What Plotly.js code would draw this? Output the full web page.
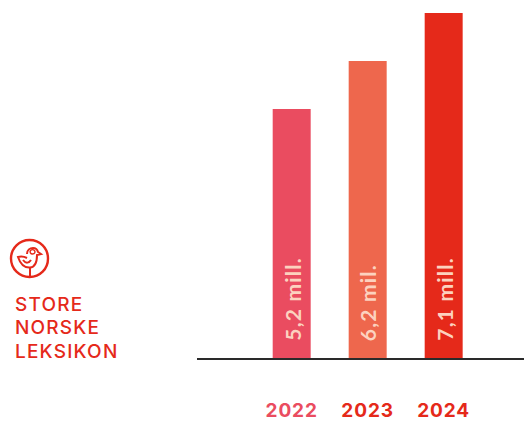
<!DOCTYPE html>
<html><head><meta charset="utf-8">
<script src="https://cdn.plot.ly/plotly-3.0.1.min.js"></script>
<style>html,body{margin:0;padding:0;background:#fff}
.xtick text{letter-spacing:0.9px}
.annotation-text{letter-spacing:1.2px}
</style></head>
<body><div id="c" style="width:524px;height:421px"></div>
<script>
const years = [2022, 2023, 2024];
const barValues = [5.2, 6.2, 7.2];
const barLabels = ['5,2 mill.', '6,2 mil.', '7,1 mill.'];
const barColors = ['#ea4c60', '#ee674d', '#e5291a'];
const tickColors = ['#ea4c60', '#e5291a', '#e5291a'];
const brandLines = ['STORE', 'NORSKE', 'LEKSIKON'];
const W = 524, H = 421, L = 197, B = 63;
const ppx = (px) => (px - L) / (W - L);
const ppy = (py) => (H - B - py) / (H - B);
function logoShape(path, extra) {
  return Object.assign({type:'path', xref:'paper', yref:'paper', xsizemode:'pixel', ysizemode:'pixel',
    xanchor: ppx(0), yanchor: ppy(0), path, line:{color:'#e5291a', width:2}, fillcolor:'rgba(0,0,0,0)'}, extra||{});
}
const f = (x,y)=>x+' '+(-y);
const logo = [
  logoShape(`M ${f(11,258.5)} C ${f(11,248)} ${f(19.5,240)} ${f(29.5,240)} C ${f(40,240)} ${f(48,248)} ${f(48,258.5)} C ${f(48,269)} ${f(40,277)} ${f(29.5,277)} C ${f(19.5,277)} ${f(11,269)} ${f(11,258.5)} Z`, {line:{color:'#e5291a', width:2.4}}),
  logoShape(`M ${f(27,254)} C ${f(27,250)} ${f(30,248)} ${f(33,248)} C ${f(36,248)} ${f(37.5,250)} ${f(38,252)} L ${f(41,254)} L ${f(37,255)} C ${f(37,261)} ${f(36,267)} ${f(30,267.5)} C ${f(24,268)} ${f(20,263)} ${f(18,257)} C ${f(22,256)} ${f(25,257)} ${f(27,258)}`),
  logoShape(`M ${f(23,260)} C ${f(26,264)} ${f(29,263)} ${f(31,260)}`),
  logoShape(`M ${f(30,268)} L ${f(30,277)}`),
  logoShape(`M ${f(30.5,250.5)} C ${f(31.5,249.5)} ${f(33.5,249.5)} ${f(34.5,250.5)} C ${f(35.5,252)} ${f(35,254)} ${f(32.5,254)} C ${f(30.5,254)} ${f(29.5,252)} ${f(30.5,250.5)} Z`, {line:{color:'#e5291a', width:1.4}})
];
const brandY = [304, 327.5, 351];
const brandAnn = brandLines.map((t,i)=>({
  text:t, xref:'paper', yref:'paper', x:ppx(13), y:ppy(brandY[i]), xanchor:'left', yanchor:'middle',
  showarrow:false, font:{family:'Inter, sans-serif', size:19, color:'#e5291a', weight:500}
}));
const barAnn = barLabels.map((t,i)=>({
  text:t, xref:'x', yref:'y', x:years[i], y:0, yanchor:'bottom', xanchor:'center', yshift:15, textangle:-90,
  showarrow:false, font:{family:'Lato, sans-serif', size:21, color:'#fcd2bf', weight:700}
}));
Plotly.newPlot('c', [{
  type:'bar', x:years, y:barValues, width:0.5,
  marker:{color:barColors, line:{width:0}}, cliponaxis:false, hoverinfo:'skip'
}], {
  width:W, height:H, showlegend:false, paper_bgcolor:'#fff', plot_bgcolor:'#fff',
  margin:{l:L, r:0, t:0, b:B, pad:0},
  xaxis:{range:[2020.754, 2025.057], tickmode:'array', tickvals:years,
    ticktext:years.map((y,i)=>`<span style="color:${tickColors[i]}">${y}</span>`),
    showgrid:false, zeroline:false, showline:true, linecolor:'#2a2a2a', linewidth:1.5,
    ticks:'outside', ticklen:35, tickcolor:'rgba(0,0,0,0)', tickwidth:1, layer:'above traces',
    tickfont:{family:'Inter, sans-serif', size:19, weight:700, color:'#e5291a'}, automargin:false},
  yaxis:{range:[0, 7.474], visible:false, fixedrange:true},
  annotations: brandAnn.concat(barAnn), shapes:logo
}, {displayModeBar:false, staticPlot:true});
</script></body></html>
